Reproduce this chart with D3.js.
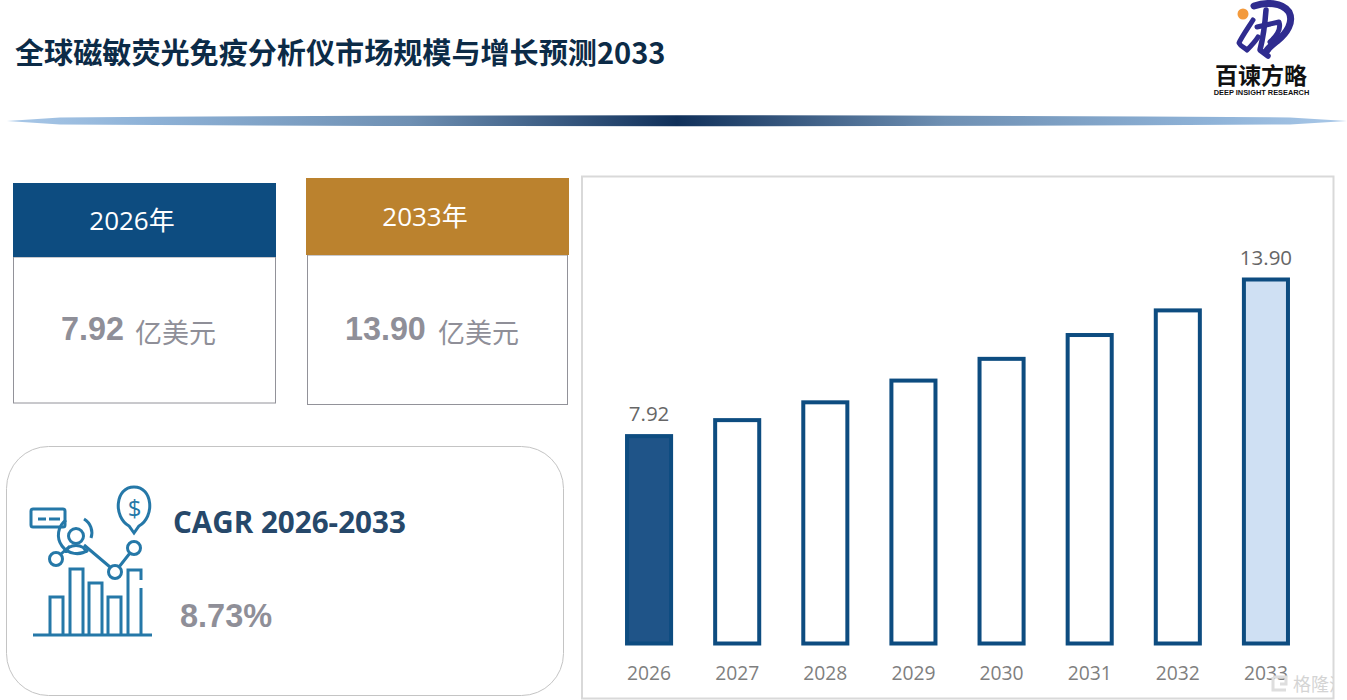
<!DOCTYPE html>
<html><head><meta charset="utf-8">
<script src="https://cdn.jsdelivr.net/npm/d3@7"></script>
<style>html,body{margin:0;padding:0;background:#fff;overflow:hidden}svg{display:block}</style>
</head><body><svg id="c" width="1347" height="700"></svg>
<script>
const years = ["2026","2027","2028","2029","2030","2031","2032","2033"];
const values = [7.92, 8.53, 9.21, 10.04, 10.87, 11.78, 12.72, 13.90];
const labelled = ["2026","2033"];
const fills = {"2026":"#1f5488","2033":"#cfe0f3"};
const titleText = "全球磁敏荧光免疫分析仪市场规模与增长预测2033";
const cagrLabel = "CAGR 2026-2033";
const cagrValue = "8.73%";
const unit = "亿美元";

const svg = d3.select("#c");
const CJK = "'Noto Sans CJK SC','Noto Sans',sans-serif";
const LAT = "'Open Sans','Noto Sans CJK SC',sans-serif";
const ARIAL = "'Liberation Sans',Arial,sans-serif";
const txt = (g,x,y,s,size,fill,fam,w,anchor) => g.append("text").attr("x",x).attr("y",y).text(s)
  .attr("font-size",size).attr("fill",fill).attr("font-family",fam).attr("font-weight",w||400).attr("text-anchor",anchor||"start");

/* title */
txt(svg,15,64,titleText,29.1,"#0c2b47",CJK,700);

/* divider */
const defs = svg.append("defs");
const gr = defs.append("linearGradient").attr("id","div").attr("x1","0").attr("x2","1").attr("y1","0").attr("y2","0");
[[0,"#a9c8e8"],[.1,"#8fb3d8"],[.3,"#6f90b3"],[.5,"#10305a"],[.7,"#6f90b3"],[.9,"#8fb3d8"],[1,"#a9c8e8"]]
  .forEach(d=>gr.append("stop").attr("offset",d[0]).attr("stop-color",d[1]));
svg.append("path").attr("d","M7,121 L60,117.5 Q680,113 1290,117.5 L1347,121 L1290,124.5 Q680,128 60,124.5Z").attr("fill","url(#div)");

/* logo */
const lg = svg.append("g");
lg.append("circle").attr("cx",1243).attr("cy",14).attr("r",5.5).attr("fill","#f39a3c");
const lp = lg.append("g").attr("fill","none").attr("stroke","#2f2c8f").attr("stroke-linecap","round").attr("stroke-linejoin","round");
lp.append("path").attr("stroke-width",7).attr("d","M1254,6 C1266,2 1282,2 1289,12 C1294,22 1287,33 1277,41 C1272,45 1268,48 1266,52");
lp.append("path").attr("stroke-width",5).attr("d","M1253,20 C1248,28 1241,38 1239,43 C1241,47 1244,47 1247,50 C1251,46 1255,42 1258,37");
lp.append("path").attr("stroke-width",5.5).attr("d","M1266,10 C1265,24 1263,38 1260,50 L1268,56");
lp.append("path").attr("stroke-width",5).attr("d","M1257,27 L1279,22 C1281,28 1278,35 1270,42");
txt(lg,1261,84,"百谏方略",23,"#111",CJK,700,"middle");
txt(lg,1261.5,94.5,"DEEP INSIGHT RESEARCH",7.4,"#111",ARIAL,700,"middle");

/* KPI cards */
function card(x,y,w,hh,bx,bw,bottom,color,hdr,hx,hy,val,vx,ux){
  svg.append("rect").attr("x",bx+.5).attr("y",y+hh).attr("width",bw-1).attr("height",bottom-y-hh).attr("fill","#fff").attr("stroke","#929299").attr("stroke-width",1);
  svg.append("rect").attr("x",x).attr("y",y).attr("width",w).attr("height",hh).attr("fill",color);
  txt(svg,hx,hy,hdr,26,"#fff",LAT,400,"middle");
  txt(svg,vx,340,val,32.3,"#8f8f98",ARIAL,700);
  txt(svg,ux,343,unit,27,"#8f8f98",CJK,400);
}
card(13,183,263,74,13,263,403,"#0d4c80","2026年",132,230,"7.92",61,135);
card(306,178,263,77,307,261,404.5,"#bb822e","2033年",425,226,"13.90",345,438);

/* CAGR box */
svg.append("rect").attr("x",6.5).attr("y",446.5).attr("width",557).attr("height",249).attr("rx",42).attr("fill","#fff").attr("stroke","#c4c4c4").attr("stroke-width",1);
txt(svg,173,533,cagrLabel,29.6,"#26486a",LAT,700);
txt(svg,180,627,cagrValue,32.5,"#8f8f98",ARIAL,700);

/* icon */
const ic = svg.append("g").attr("fill","none").attr("stroke","#2578a8").attr("stroke-width",3);
ic.append("line").attr("x1",33).attr("x2",152).attr("y1",635).attr("y2",635);
[[50,597,63],[70,569,83],[89,583,102],[108,597,121]].forEach(d=>
  ic.append("path").attr("d",`M${d[0]},634 V${d[1]} H${d[2]} V634`));
ic.append("path").attr("d","M128,634 V570 H141 V580 M141,588 V634");
ic.append("rect").attr("x",31).attr("y",509).attr("width",34).attr("height",18).attr("rx",2);
ic.append("path").attr("d","M38,519 H46 M49,519 H60");
ic.append("circle").attr("cx",56).attr("cy",559).attr("r",6.5);
ic.append("circle").attr("cx",115).attr("cy",572).attr("r",6.5);
ic.append("circle").attr("cx",134).attr("cy",548).attr("r",6.5);
ic.append("path").attr("d","M61,554 L70,546 M84,545 L110,567 M119,567 L130,553");
ic.append("circle").attr("cx",76).attr("cy",536).attr("r",7.5);
ic.append("path").attr("d","M66,553 C66,543 86,543 86,553");
ic.append("path").attr("d","M66,520 A16,16 0 0 0 88,550 M91,538 A16,16 0 0 0 84,519");
ic.append("path").attr("d","M134,533 L129,526 C113,517 115,487 134,487 C153,487 155,517 139,526Z");
txt(svg,134.5,517,"$",24,"#2578a8",LAT,400,"middle");

/* bar chart */
svg.append("rect").attr("x",582).attr("y",176.5).attr("width",751.5).attr("height",522).attr("fill","#fff").attr("stroke","#d9d9d9").attr("stroke-width",2);
const x = d3.scaleBand().domain(years).range([605,1310]).paddingInner(.5).paddingOuter(.25);
const y = d3.scaleLinear().domain([0,13.9]).range([643.5,279.5]);
const data = years.map((yr,i)=>({yr,v:values[i]}));
svg.append("g").selectAll("rect").data(data).join("rect")
  .attr("x",d=>x(d.yr)).attr("width",x.bandwidth())
  .attr("y",d=>y(d.v)).attr("height",d=>y(0)-y(d.v))
  .attr("fill",d=>fills[d.yr]||"#fff").attr("stroke","#0d4c80").attr("stroke-width",4);
svg.append("g").selectAll("text").data(data.filter(d=>labelled.includes(d.yr))).join("text")
  .attr("x",d=>x(d.yr)+x.bandwidth()/2).attr("y",d=>y(d.v)-15).attr("text-anchor","middle")
  .attr("font-size",20.5).attr("font-family",LAT).attr("fill","#666").text(d=>d.v.toFixed(2));
const ax = svg.append("g").attr("transform","translate(0,663)").call(d3.axisBottom(x).tickSize(0).tickPadding(3));
ax.select(".domain").remove();
ax.selectAll("text").attr("font-size",19.3).attr("font-family",LAT).attr("fill","#7f7f7f");

/* watermark */
defs.append("clipPath").attr("id","wmc").append("rect").attr("x",1260).attr("y",650).attr("width",73).attr("height",48);
const wm = svg.append("g").attr("clip-path","url(#wmc)");
wm.append("path").attr("d","M1273,677 H1286 V684 H1280 M1273,677 V690 H1286").attr("fill","none").attr("stroke","#dedede").attr("stroke-width",3);
txt(wm,1293,691,"格隆汇",18,"#d4d4d4",CJK,400);
</script></body></html>
